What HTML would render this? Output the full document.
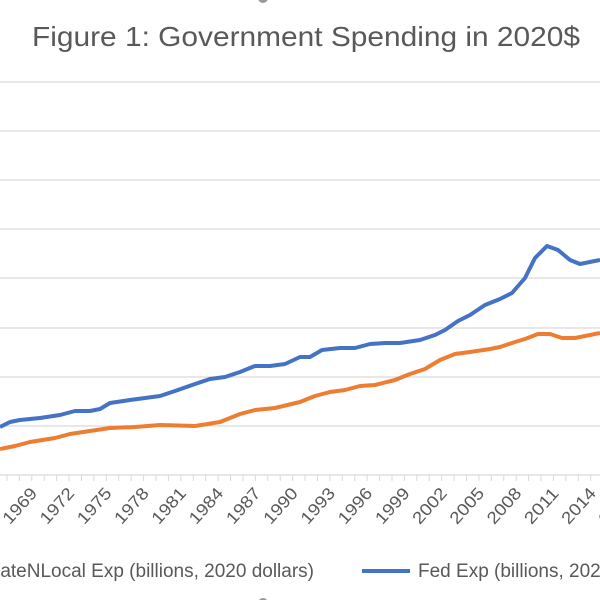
<!DOCTYPE html>
<html><head><style>
body{margin:0;background:#fff;}
svg{display:block;font-family:"Liberation Sans",sans-serif;}
</style></head><body>
<svg width="600" height="600" viewBox="0 0 600 600">
<rect width="600" height="600" fill="#fff"/>
<circle cx="263" cy="-2" r="5" fill="#999"/>
<circle cx="263" cy="603" r="5" fill="#999"/>
<text x="32" y="46" font-size="28" textLength="548" lengthAdjust="spacingAndGlyphs" fill="#595959">Figure 1: Government Spending in 2020$</text>
<g stroke="#d9d9d9" stroke-width="1.3">
<line x1="0" x2="600" y1="82" y2="82"/><line x1="0" x2="600" y1="131" y2="131"/>
<line x1="0" x2="600" y1="180" y2="180"/><line x1="0" x2="600" y1="229" y2="229"/>
<line x1="0" x2="600" y1="278" y2="278"/><line x1="0" x2="600" y1="328" y2="328"/>
<line x1="0" x2="600" y1="377" y2="377"/><line x1="0" x2="600" y1="426" y2="426"/>
<line x1="0" x2="600" y1="475" y2="475"/>
</g>
<g id="ticks" stroke="#d9d9d9" stroke-width="1"></g>
<g id="labels" font-size="17" fill="#595959"></g>
<polyline fill="none" stroke="#ED7D31" stroke-width="4" stroke-linejoin="round" points="0,449 15,446 30,442 55,438 70,434 90,431 110,428 135,427 160,425 195,426 220,422 240,414 255,410 275,408 300,402 315,396 330,392 345,390 360,386 375,385 395,380 410,374 425,369 440,360 455,354 470,352 490,349 500,347 515,342 525,339 538,334 550,334 562,338 575,338 590,335 600,333"/>
<polyline fill="none" stroke="#4472C4" stroke-width="4" stroke-linejoin="round" points="0,427 10,422 20,420 40,418 60,415 75,411 90,411 100,409 110,403 130,400 160,396 175,391 195,384 210,379 225,377 240,372 255,366 270,366 285,364 300,357 310,357 322,350 340,348 355,348 370,344 385,343 400,343 420,340 435,335 445,330 458,321 470,315 485,305 500,299 512,293 525,278 535,258 547,246 558,250 570,260 580,264 600,260"/>
<text x="314" y="577" text-anchor="end" font-size="19" fill="#595959">StateNLocal Exp (billions, 2020 dollars)</text>
<line x1="362" x2="410" y1="571" y2="571" stroke="#4472C4" stroke-width="4"/>
<text x="418" y="577" font-size="19" fill="#595959">Fed Exp (billions, 2020 dollars)</text>
</svg>
<script>
var t=document.getElementById('ticks'),l=document.getElementById('labels'),ns='http://www.w3.org/2000/svg';
for(var y=1960;y<=2020;y++){var x=38+(y-1969)*12.42-6.2;if(x<0||x>600)continue;
var ln=document.createElementNS(ns,'line');ln.setAttribute('x1',x);ln.setAttribute('x2',x);ln.setAttribute('y1',475);ln.setAttribute('y2',481);t.appendChild(ln);}
for(var y=1966;y<=2017;y+=3){var x=38+(y-1969)*12.42;
var tx=document.createElementNS(ns,'text');tx.setAttribute('transform','translate('+x+',494) rotate(-48)');tx.setAttribute('text-anchor','end');tx.setAttribute('textLength','42');tx.setAttribute('lengthAdjust','spacingAndGlyphs');tx.textContent=y;l.appendChild(tx);}
</script>
</body></html>
